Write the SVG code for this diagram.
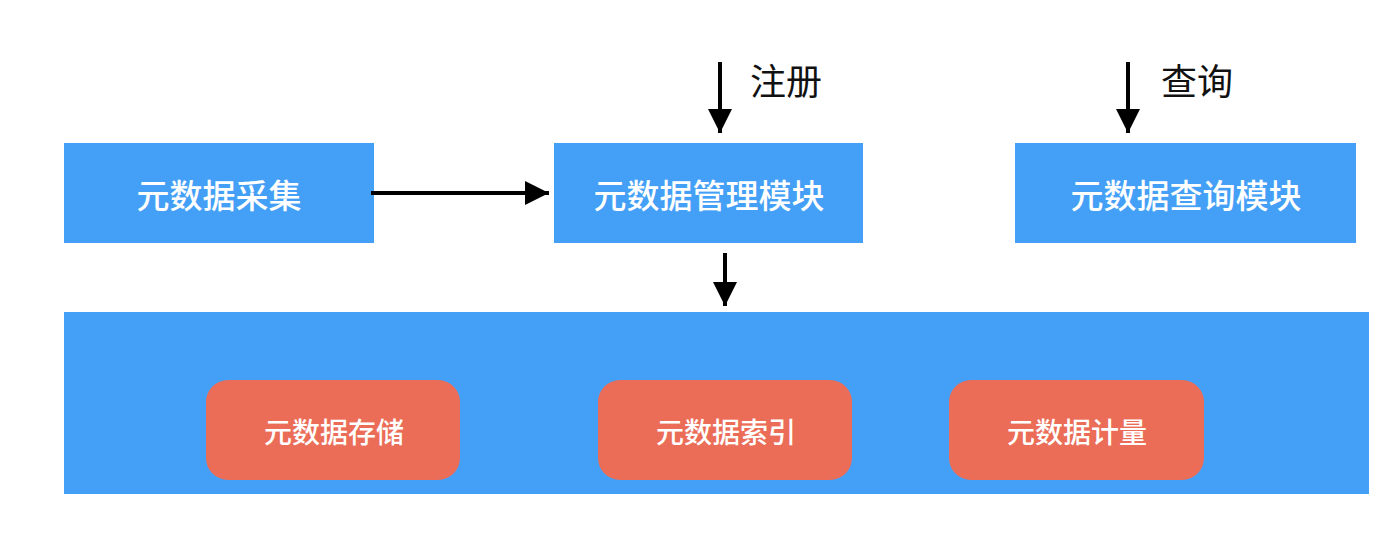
<svg xmlns="http://www.w3.org/2000/svg" width="1400" height="543" viewBox="0 0 1400 543">
<defs>
<style>
.blue{fill:#44A0F6;}
.red{fill:#EB6D58;}
.t{font-family:"Noto Sans CJK SC","Noto Sans",sans-serif;fill:#fff;text-anchor:middle;dominant-baseline:central;font-weight:500;}
.big{font-size:33px;}
.small{font-size:28px;}
.lbl{font-family:"Noto Sans CJK SC","Noto Sans",sans-serif;fill:#111;font-size:36px;dominant-baseline:central;}
.ln{stroke:#000;stroke-width:4;fill:none;}
</style>
<marker id="ah" markerWidth="6" markerHeight="6" refX="6" refY="3" orient="auto" markerUnits="strokeWidth">
<path d="M0,0 L6,3 L0,6 Z" fill="#000"/>
</marker>
</defs>
<rect width="1400" height="543" fill="#fff"/>
<g id="container">
<rect class="blue" x="64" y="312" width="1305" height="182"/>
</g>
<g id="collect">
<rect class="blue" x="64" y="143" width="310" height="100"/>
<text class="t big" x="219" y="194">元数据采集</text>
</g>
<g id="manage">
<rect class="blue" x="554" y="143" width="309" height="100"/>
<text class="t big" x="709" y="194">元数据管理模块</text>
</g>
<g id="query">
<rect class="blue" x="1015" y="143" width="341" height="100"/>
<text class="t big" x="1186" y="194">元数据查询模块</text>
</g>
<g id="storage">
<rect class="red" x="206" y="380" width="254" height="100" rx="22"/>
<text class="t small" x="334" y="431">元数据存储</text>
</g>
<g id="index">
<rect class="red" x="598" y="380" width="254" height="100" rx="22"/>
<text class="t small" x="726" y="431">元数据索引</text>
</g>
<g id="metering">
<rect class="red" x="949" y="380" width="255" height="100" rx="22"/>
<text class="t small" x="1077" y="431">元数据计量</text>
</g>
<g id="labels">
<text class="lbl" x="750" y="79">注册</text>
<text class="lbl" x="1161" y="79">查询</text>
</g>
<g id="connectors">
<line class="ln" x1="371" y1="193" x2="549" y2="193" marker-end="url(#ah)"/>
<line class="ln" x1="720" y1="62" x2="720" y2="133" marker-end="url(#ah)"/>
<line class="ln" x1="725" y1="253" x2="725" y2="306" marker-end="url(#ah)"/>
<line class="ln" x1="1128" y1="62" x2="1128" y2="133" marker-end="url(#ah)"/>
</g>
</svg>
